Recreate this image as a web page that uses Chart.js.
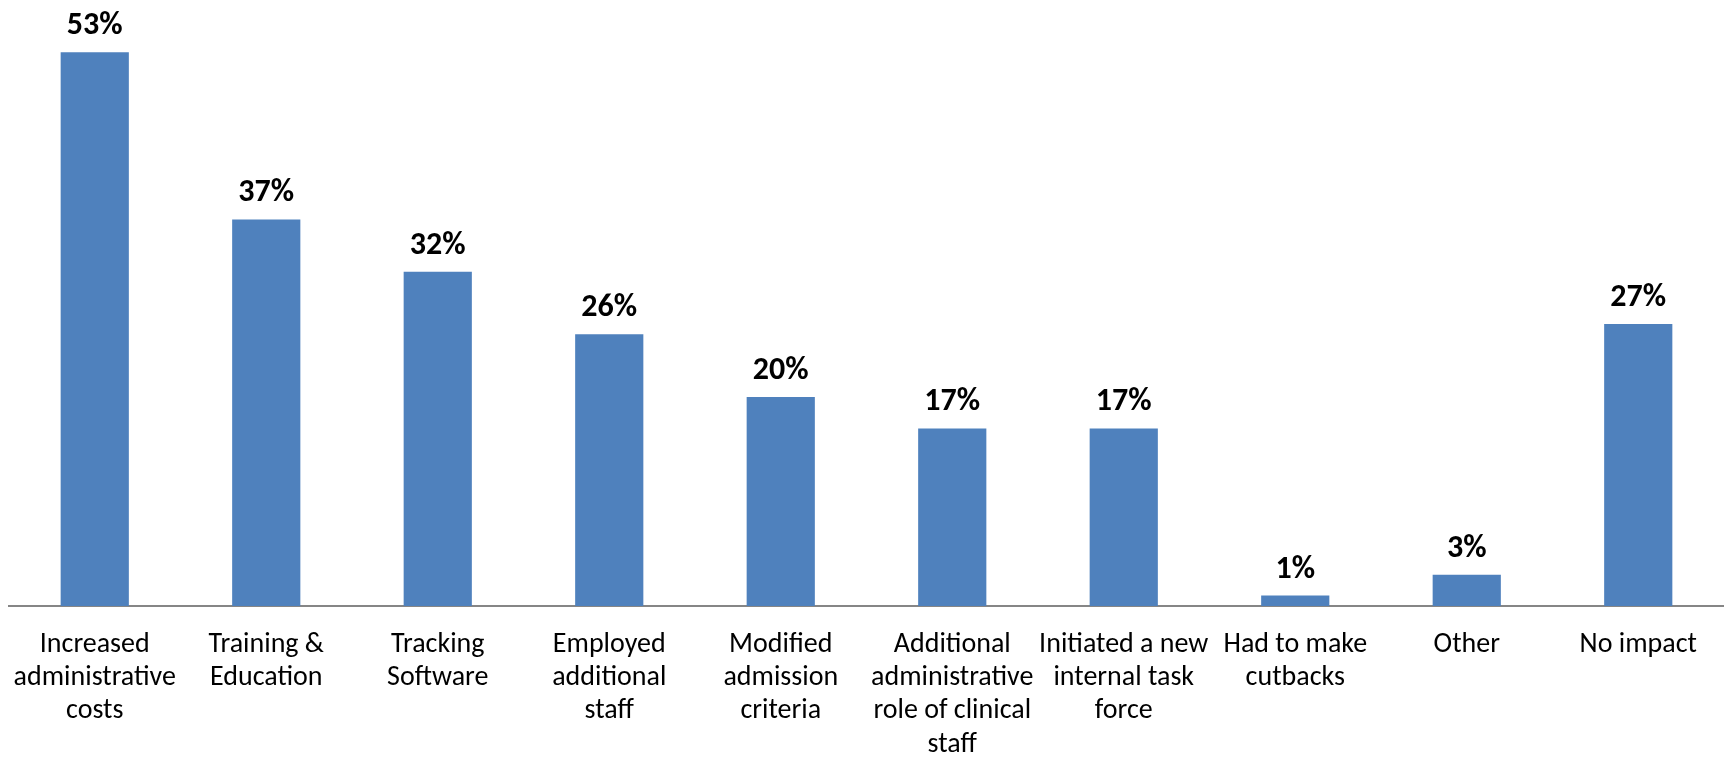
<!DOCTYPE html>
<html>
<head>
<meta charset="utf-8">
<script src="https://cdn.jsdelivr.net/npm/chart.js@4/dist/chart.umd.min.js"></script>
<style>
  html, body { margin: 0; padding: 0; background: #fff; }
  #impactChart { display: block; }
</style>
</head>
<body>
<canvas id="impactChart" width="1724" height="757"></canvas>
<script>
const categories = [
  ['Increased', 'administrative', 'costs'],
  ['Training &', 'Education'],
  ['Tracking', 'Software'],
  ['Employed', 'additional', 'staff'],
  ['Modified', 'admission', 'criteria'],
  ['Additional', 'administrative', 'role of clinical', 'staff'],
  ['Initiated a new', 'internal task', 'force'],
  ['Had to make', 'cutbacks'],
  ['Other'],
  ['No impact']
];
const percentages = [53, 37, 32, 26, 20, 17, 17, 1, 3, 27];

const FONT = 'Carlito, Calibri, Lato, sans-serif';

// value labels above each bar
const barLabels = {
  id: 'barLabels',
  afterDatasetsDraw(chart) {
    const { ctx } = chart;
    const meta = chart.getDatasetMeta(0);
    ctx.save();
    ctx.font = 'bold 32px ' + FONT;
    ctx.fillStyle = '#000';
    ctx.textAlign = 'center';
    ctx.textBaseline = 'alphabetic';
    meta.data.forEach((bar, i) => {
      ctx.fillText(percentages[i] + '%', bar.x, bar.y - 18);
    });
    ctx.restore();
  }
};

const ctx = document.getElementById('impactChart').getContext('2d');
new Chart(ctx, {
  type: 'bar',
  data: {
    labels: categories,
    datasets: [{
      data: percentages,
      backgroundColor: '#4F81BD',
      borderWidth: 0,
      barPercentage: 0.8,
      categoryPercentage: 0.497
    }]
  },
  options: {
    responsive: false,
    animation: false,
    layout: { padding: { left: 9, right: 0, top: 0, bottom: 0 } },
    scales: {
      x: {
        grid: { display: false, drawTicks: false },
        border: { display: true, color: '#868686', width: 2 },
        ticks: {
          padding: 22,
          color: '#000',
          maxRotation: 0,
          autoSkip: false,
          font: { family: FONT, size: 28, lineHeight: 1.19 }
        },
        // fixed band for the category labels, last line sits on the bottom edge
        afterFit(scale) {
          scale.height = 151;
          scale.paddingLeft = 0;
          scale.paddingRight = 0;
        }
      },
      y: {
        display: false,
        min: 0,
        max: 58
      }
    },
    plugins: {
      legend: { display: false },
      tooltip: { enabled: false }
    }
  },
  plugins: [barLabels]
});
</script>
</body>
</html>
